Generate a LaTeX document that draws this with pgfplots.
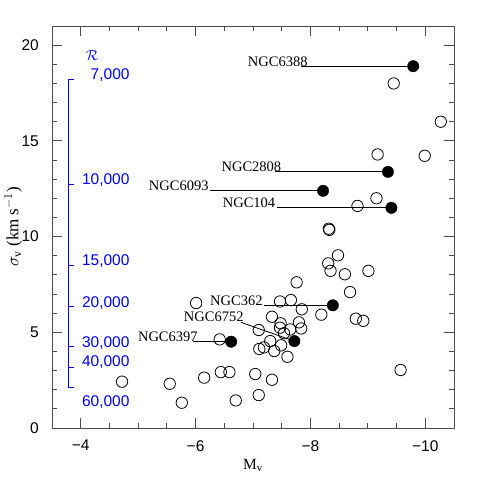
\documentclass[border=0pt]{standalone}
\usepackage{pgfplots}
\pgfplotsset{compat=1.18}
\usepackage{amsmath}
\usepackage{fontspec}
\setmainfont{Liberation Sans}
\newfontfamily\serif{Liberation Serif}

\begin{document}
\begin{tikzpicture}
\begin{axis}[
    width=402pt, height=402pt, scale only axis,
    x dir=reverse,
    xmin=-10.5, xmax=-3.5, ymin=0, ymax=21,
    xtick={-4,-6,-8,-10}, xticklabels={−4,−6,−8,−10},
    ytick={0,5,10,15,20}, yticklabels={0,5,10,15,20},
    minor x tick num=3, minor y tick num=4,
    xtick pos=both, ytick pos=both, tick align=inside,
    major tick length=10pt, minor tick length=5pt,
    axis line style={black!70, line width=0.9pt},
    every tick/.style={black!70, line width=0.9pt},
    tick label style={font=\fontsize{15.5}{18}\selectfont},
    xticklabel style={inner sep=0pt, anchor=north, yshift=-12pt},
    yticklabel style={inner sep=0pt, anchor=east, xshift=-13pt},
    xlabel={M$_{\text{v}}$},
    ylabel={$\sigma_{\text{v}}$ (km s$^{-1}$)},
    label style={font=\serif\fontsize{15.5}{18}\selectfont},
    xlabel style={at={(axis description cs:0.5,0)}, anchor=base, inner sep=0pt, yshift=-41pt},
    ylabel style={at={(axis description cs:-0.074,0.5)}, anchor=south, inner sep=0pt, font=\serif\fontsize{17}{20}\selectfont},
    clip=false,
]

% resolution scale
\addplot[draw=blue, line width=1pt, mark=none] coordinates {
    (-3.88,18.19) (-3.796,18.19)
    (-3.796,12.73) (-3.88,12.73) (-3.796,12.73)
    (-3.796,8.49) (-3.88,8.49) (-3.796,8.49)
    (-3.796,6.37) (-3.88,6.37) (-3.796,6.37)
    (-3.796,4.24) (-3.88,4.24) (-3.796,4.24)
    (-3.796,3.18) (-3.88,3.18) (-3.796,3.18)
    (-3.796,2.12) (-3.88,2.12)
};
\begin{scope}[every node/.style={blue, anchor=east, inner sep=0pt, font=\fontsize{15.5}{18}\selectfont}]
\node at (axis cs:-4.853,18.44) {7,000};
\node at (axis cs:-4.853,12.96) {10,000};
\node at (axis cs:-4.853,8.74) {15,000};
\node at (axis cs:-4.853,6.55) {20,000};
\node at (axis cs:-4.853,4.46) {30,000};
\node at (axis cs:-4.853,3.46) {40,000};
\node at (axis cs:-4.853,1.37) {60,000};
\end{scope}
\node[blue, font=\fontsize{15}{18}\selectfont] at (axis cs:-4.2,19.43) {$\mathcal{R}$};

% connector lines
\addplot[black, line width=0.8pt] coordinates {(-7.83,18.9) (-9.79,18.9)};
\addplot[black, line width=0.8pt] coordinates {(-7.38,13.38) (-9.35,13.38)};
\addplot[black, line width=0.8pt] coordinates {(-6.25,12.39) (-8.22,12.39)};
\addplot[black, line width=0.8pt] coordinates {(-7.41,11.5) (-9.41,11.5)};
\addplot[black, line width=0.8pt] coordinates {(-7.19,6.41) (-8.39,6.41)};
\addplot[black, line width=0.8pt] coordinates {(-6.79,5.52) (-7.72,4.54)};
\addplot[black, line width=0.8pt] coordinates {(-5.95,4.51) (-6.62,4.51)};

% open circles
\addplot[only marks, mark=o, mark size=5.7pt, mark options={line width=0.8pt, black}] coordinates {
    (-9.45,18.0) (-10.27,16.0) (-9.17,14.29) (-9.99,14.22) (-9.15,12.0)
    (-8.82,11.6) (-8.32,10.41) (-8.33,10.35) (-8.48,9.02) (-8.31,8.6)
    (-8.35,8.21) (-8.6,8.03) (-9.01,8.21) (-7.76,7.61) (-8.69,7.1)
    (-7.47,6.61) (-7.66,6.68) (-7.85,6.2) (-8.19,5.92) (-8.79,5.71)
    (-8.92,5.6) (-7.33,5.81) (-7.48,5.47) (-7.8,5.52) (-7.84,5.2)
    (-7.47,5.24) (-7.65,5.15) (-7.54,4.95) (-7.1,5.12) (-7.3,4.54)
    (-7.49,4.32) (-7.11,4.13) (-7.19,4.21) (-7.37,4.02) (-7.6,3.72)
    (-9.57,3.03) (-7.04,2.82) (-7.33,2.52) (-7.1,1.72) (-6.7,1.44)
    (-6.01,6.53) (-6.42,4.63) (-4.72,2.42) (-5.55,2.31) (-5.76,1.32)
    (-6.15,2.63) (-6.44,2.92) (-6.59,2.92)
};

% filled circles
\addplot[only marks, mark=*, mark size=5.7pt, mark options={black}] coordinates {
    (-9.79,18.9) (-9.35,13.38) (-8.22,12.39) (-9.41,11.5)
    (-8.39,6.41) (-7.72,4.54) (-6.62,4.51)
};

\begin{scope}[every node/.style={anchor=base east, inner sep=0pt, font=\serif\fontsize{14.5}{16}\selectfont}]
\node at (axis cs:-7.953,18.9) {NGC6388};
\node at (axis cs:-7.495,13.38) {NGC2808};
\node at (axis cs:-6.23,12.39) {NGC6093};
\node at (axis cs:-7.39,11.5) {NGC104};
\node at (axis cs:-7.17,6.41) {NGC362};
\node at (axis cs:-6.84,5.55) {NGC6752};
\node at (axis cs:-6.04,4.51) {NGC6397};
\end{scope}
\end{axis}
\path (current axis.south west) ++(-52pt,-51pt) rectangle ++(479pt,479pt);
\end{tikzpicture}
\end{document}
